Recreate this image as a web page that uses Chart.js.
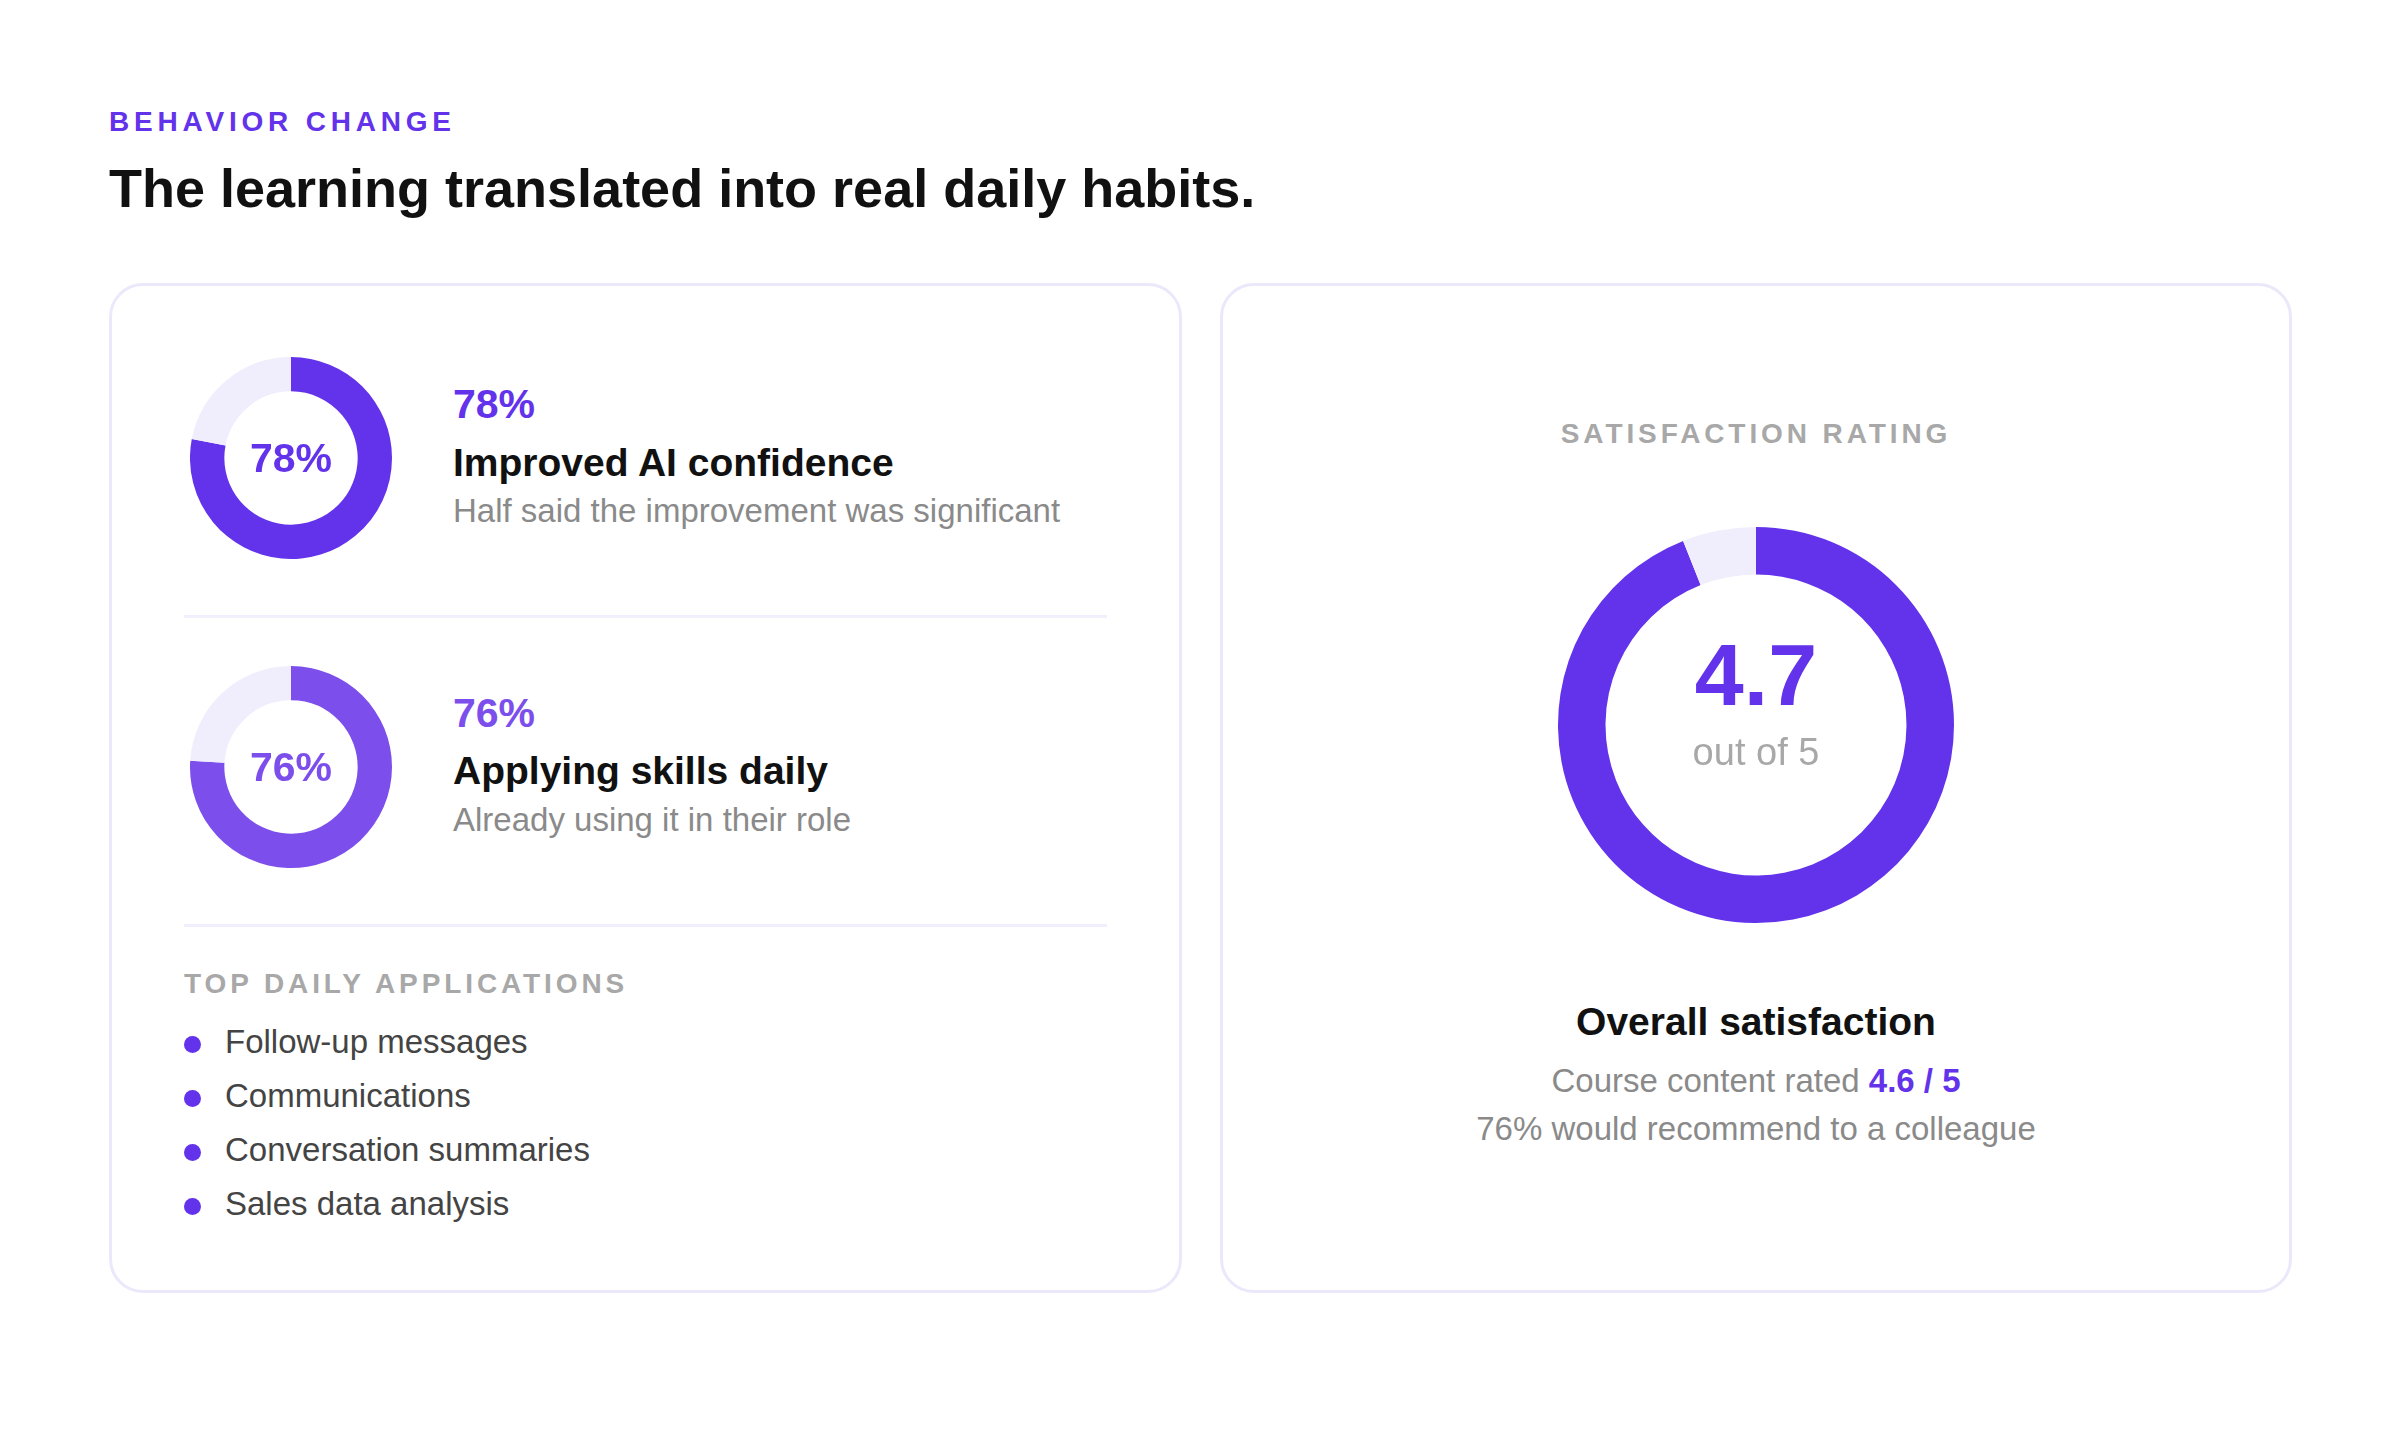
<!DOCTYPE html>
<html>
<head>
<meta charset="utf-8">
<script src="https://cdn.jsdelivr.net/npm/chart.js@4.4.1/dist/chart.umd.min.js"></script>
<style>
  body { margin: 0; width: 2400px; height: 1431px; background: #fff; font-family: "Liberation Sans", Arial, sans-serif; position: relative; overflow: hidden; }
  .abs { position: absolute; line-height: 1; white-space: nowrap; }
  .eyebrow { left: 109px; top: 108px; font-size: 28px; font-weight: bold; letter-spacing: 4.8px; color: #6332eb; }
  .title { left: 109px; top: 161px; font-size: 54px; font-weight: bold; color: #111; }
  .card { position: absolute; top: 283px; height: 1010px; box-sizing: border-box; border: 3px solid #ebe8fb; border-radius: 34px; background: #fff; }
  #leftCard { left: 109px; width: 1073px; }
  #rightCard { left: 1220px; width: 1072px; }
  .donut { position: absolute; }
  .donut .center { position: absolute; left: 0; top: 0; width: 100%; height: 100%; display: flex; align-items: center; justify-content: center; font-weight: bold; font-size: 41px; }
  .pct { font-size: 41px; font-weight: bold; }
  .label { font-size: 39px; font-weight: bold; color: #111; }
  .note { font-size: 33px; color: #8a8a8a; }
  .divider { position: absolute; left: 72px; width: 923px; height: 3px; background: #f1effc; }
  .section { font-size: 28px; font-weight: bold; letter-spacing: 3.9px; color: #a8a8a8; }
  .item { left: 72px; font-size: 33px; color: #444; }
  .item .dot { position: absolute; left: 0; top: 11px; width: 17px; height: 17px; border-radius: 50%; background: #6332eb; }
  .item span { position: absolute; left: 41px; top: 0; }
  .mid { left: 0; width: 1066px; text-align: center; }
</style>
</head>
<body>

<div class="abs eyebrow" id="eyebrow"></div>
<div class="abs title" id="title"></div>

<div class="card" id="leftCard">
  <div class="donut" style="left:78px; top:71px; width:202px; height:202px;">
    <canvas id="metric0"></canvas>
    <div class="center" id="metricCenter0"></div>
  </div>
  <div class="abs pct" id="metricPct0" style="left:341px; top:98px;"></div>
  <div class="abs label" id="metricLabel0" style="left:341px; top:157px;"></div>
  <div class="abs note" id="metricNote0" style="left:341px; top:208px;"></div>

  <div class="divider" style="top:329px;"></div>

  <div class="donut" style="left:78px; top:380px; width:202px; height:202px;">
    <canvas id="metric1"></canvas>
    <div class="center" id="metricCenter1"></div>
  </div>
  <div class="abs pct" id="metricPct1" style="left:341px; top:407px;"></div>
  <div class="abs label" id="metricLabel1" style="left:341px; top:465px;"></div>
  <div class="abs note" id="metricNote1" style="left:341px; top:517px;"></div>

  <div class="divider" style="top:638px;"></div>

  <div class="abs section" id="appsTitle" style="left:72px; top:684px;"></div>
  <div id="appsList"></div>
</div>

<div class="card" id="rightCard">
  <div class="abs section mid" id="ratingTitle" style="top:134px;"></div>
  <div class="donut" style="left:335px; top:241px; width:396px; height:396px;">
    <canvas id="ratingChart"></canvas>
  </div>
  <div class="abs mid" id="ratingScore" style="top:345px; font-size:88px; font-weight:bold; color:#6332eb;"></div>
  <div class="abs mid" id="ratingMax" style="top:447px; font-size:38px; color:#a8a8a8;"></div>
  <div class="abs mid label" id="overallLabel" style="top:716px;"></div>
  <div class="abs mid note" id="courseLine" style="top:778px;"></div>
  <div class="abs mid note" id="recommendLine" style="top:826px;"></div>
</div>

<script>
// header text
const eyebrowText = 'BEHAVIOR CHANGE';
const titleText = 'The learning translated into real daily habits.';

// the two progress rings on the left
const metricLabels = ['Improved AI confidence', 'Applying skills daily'];
const metricValues = [78, 76];
const metricNotes = ['Half said the improvement was significant', 'Already using it in their role'];
const metricColors = ['#6332eb', '#7c4fec'];
const trackColor = '#f0edfd';

// top daily applications
const appsTitle = 'TOP DAILY APPLICATIONS';
const topApplications = ['Follow-up messages', 'Communications', 'Conversation summaries', 'Sales data analysis'];

// satisfaction
const ratingTitle = 'SATISFACTION RATING';
const satisfactionScore = 4.7;
const satisfactionMax = 5;
const courseScore = 4.6;
const recommendPct = 76;

document.getElementById('eyebrow').textContent = eyebrowText;
document.getElementById('title').textContent = titleText;

function ring(canvasId, value, max, color, cutout) {
  return new Chart(document.getElementById(canvasId), {
    type: 'doughnut',
    data: {
      datasets: [{
        data: [value, max - value],
        backgroundColor: [color, trackColor],
        borderWidth: 0,
        hoverOffset: 0
      }]
    },
    options: {
      responsive: true,
      maintainAspectRatio: false,
      animation: false,
      cutout: cutout,
      plugins: { legend: { display: false }, tooltip: { enabled: false } }
    }
  });
}

metricValues.forEach(function (v, i) {
  ring('metric' + i, v, 100, metricColors[i], '66%');
  const c = document.getElementById('metricCenter' + i);
  c.textContent = v + '%';
  c.style.color = metricColors[i];
  const p = document.getElementById('metricPct' + i);
  p.textContent = v + '%';
  p.style.color = metricColors[i];
  document.getElementById('metricLabel' + i).textContent = metricLabels[i];
  document.getElementById('metricNote' + i).textContent = metricNotes[i];
});

document.getElementById('appsTitle').textContent = appsTitle;
const list = document.getElementById('appsList');
topApplications.forEach(function (name, i) {
  const row = document.createElement('div');
  row.className = 'abs item';
  row.style.top = (739 + i * 54) + 'px';
  row.innerHTML = '<div class="dot"></div><span></span>';
  row.querySelector('span').textContent = name;
  list.appendChild(row);
});

document.getElementById('ratingTitle').textContent = ratingTitle;
ring('ratingChart', satisfactionScore, satisfactionMax, '#6332eb', '76%');
document.getElementById('ratingScore').textContent = satisfactionScore.toFixed(1);
document.getElementById('ratingMax').textContent = 'out of ' + satisfactionMax;
document.getElementById('overallLabel').textContent = 'Overall satisfaction';
document.getElementById('courseLine').innerHTML = 'Course content rated <b style="color:#6332eb">' + courseScore.toFixed(1) + ' / ' + satisfactionMax + '</b>';
document.getElementById('recommendLine').textContent = recommendPct + '% would recommend to a colleague';
</script>
</body>
</html>
